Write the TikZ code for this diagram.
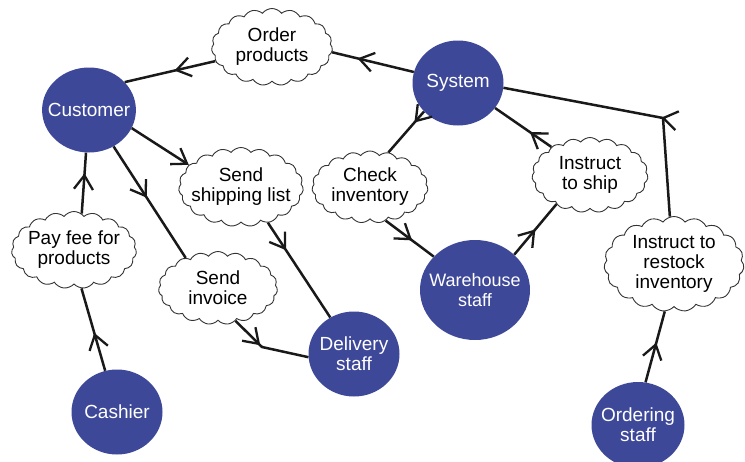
\documentclass[tikz,border=0pt]{standalone}
\usepackage{fontspec}
\setmainfont{Liberation Sans}
\usetikzlibrary{shapes.geometric,shapes.symbols,arrows.meta,decorations.markings}
\definecolor{actorblue}{RGB}{62,72,152}
\begin{document}
\begin{tikzpicture}[x=1pt,y=-1pt,
  actor/.style={ellipse, fill=actorblue, text=white, align=center, inner xsep=-8pt, inner ysep=-4pt,
    minimum width=91pt, minimum height=85pt, font=\fontsize{19}{20}\selectfont},
  msg/.style={cloud, cloud puffs=19, cloud puff arc=105, cloud ignores aspect, draw=black!80, line width=0.9pt,
    fill=white, align=center, inner xsep=-6pt, inner ysep=-6pt, font=\fontsize{19}{20}\selectfont},
  conn/.style={line width=2.5pt, draw=black!90},
  midarrow/.style={postaction={decorate}, decoration={markings, mark=at position #1 with {\arrow[line width=2.3pt]{Straight Barb[length=14pt,width=19pt]}}}},
]
\useasboundingbox (0,0) rectangle (745,461);
\clip (0,0) rectangle (745,461);

% actors
\node[actor] (customer) at (89,110) {Customer};
\node[actor] (system) at (458,83) {System};
\node[actor] (cashier) at (117,412) {Cashier};
\node[actor] (delivery) at (354,354) {Delivery\\staff};
\node[actor, minimum width=110pt, minimum height=100pt, font=\fontsize{18}{20}\selectfont] (warehouse) at (475,290) {Warehouse\\staff};
\node[actor, minimum width=93pt, minimum height=86pt] (ordering) at (638,425) {Ordering\\staff};

% messages
\node[msg, minimum width=121pt, minimum height=77pt] (order) at (272,47) {Order\\products};
\node[msg, minimum width=122pt, minimum height=79pt] (shipping) at (241,187) {Send\\shipping list};
\node[msg, minimum width=116pt, minimum height=72pt] (check) at (370,187) {Check\\inventory};
\node[msg, minimum width=116pt, minimum height=75pt] (ship) at (590,175) {Instruct\\to ship};
\node[msg, minimum width=125pt, minimum height=77pt] (payfee) at (74,250) {Pay fee for\\products};
\node[msg, minimum width=119pt, minimum height=73pt] (invoice) at (218,288) {Send\\invoice};
\node[msg, minimum width=140pt, minimum height=95pt] (restock) at (674,264) {Instruct to\\restock\\inventory};

\coordinate (c1) at (262,347);
\coordinate (c2) at (663,118);

% connectors
\draw[conn, midarrow=0.69] (system.166) -- (order.-5);
\draw[conn, midarrow=0.45] (order.194) -- (customer.38);
\draw[conn, -{Straight Barb[length=14pt,width=19pt,line width=2.3pt]}] (customer.-23) -- (shipping.157);
\draw[conn, midarrow=0.46] (customer.-56) -- (invoice.137);
\draw[conn, midarrow=0.29] (shipping.-53) -- (delivery.123);
\draw[conn, midarrow=0.41] (invoice.-62) -- (c1) -- (delivery.184);
\draw[conn, midarrow=0.46] (cashier.106) -- (payfee.-79);
\draw[conn, midarrow=0.66] (payfee.78) -- (customer.-94);
\draw[conn, midarrow=0.27] (system.220) -- (check.62);
\draw[conn, midarrow=0.55] (check.-65) -- (warehouse.141);
\draw[conn, midarrow=0.5] (warehouse.42) -- (ship.221);
\draw[conn, midarrow=0.38] (ship.144) -- (system.-34);
\draw[conn, midarrow=0.385] (restock.95) -- (c2) -- (system.-6);
\draw[conn, midarrow=0.56] (ordering.80) -- (restock.259);
\end{tikzpicture}
\end{document}
